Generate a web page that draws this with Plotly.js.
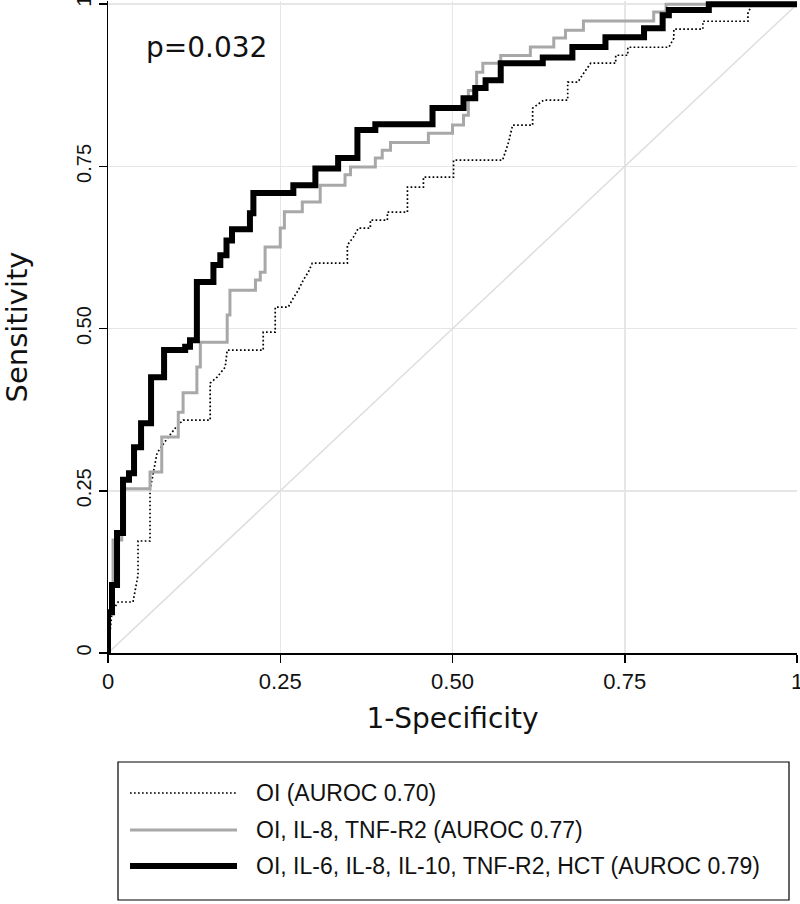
<!DOCTYPE html>
<html>
<head>
<meta charset="utf-8">
<script src="https://cdn.plot.ly/plotly-3.0.1.min.js"></script>
<style>
  html, body { margin: 0; padding: 0; background: #fff; }
  #plt0 { width: 800px; height: 904px; }
</style>
</head>
<body>
<div id="plt0"></div>
<script>
// ROC curves (1-specificity vs sensitivity)
// step curves: each point is the end of a horizontal run (drawn with shape 'vh')
var blackX = [0, 0.0058, 0.0131, 0.0218, 0.0305, 0.0378, 0.048, 0.0625, 0.0814, 0.112, 0.119, 0.129,
    0.153, 0.163, 0.172, 0.180, 0.206, 0.211, 0.269, 0.301, 0.334, 0.362, 0.388, 0.471, 0.516, 0.533,
    0.548, 0.570, 0.631, 0.674, 0.722, 0.778, 0.805, 0.814, 0.872, 1];
var blackY = [0, 0.063, 0.105, 0.185, 0.267, 0.277, 0.317, 0.354, 0.425, 0.467, 0.472, 0.482,
    0.572, 0.598, 0.613, 0.636, 0.653, 0.678, 0.709, 0.721, 0.747, 0.763, 0.806, 0.815, 0.840, 0.855,
    0.871, 0.883, 0.909, 0.918, 0.934, 0.949, 0.963, 0.983, 0.991, 1];

var grayX = [0, 0.0073, 0.020, 0.061, 0.078, 0.102, 0.109, 0.129, 0.134, 0.173, 0.177, 0.214, 0.221,
    0.228, 0.250, 0.256, 0.282, 0.308, 0.344, 0.352, 0.388, 0.398, 0.410, 0.465, 0.500, 0.516, 0.523,
    0.535, 0.544, 0.570, 0.613, 0.647, 0.664, 0.690, 0.792, 0.810, 1];
var grayY = [0, 0.062, 0.174, 0.253, 0.279, 0.333, 0.371, 0.401, 0.441, 0.479, 0.521, 0.559, 0.575,
    0.587, 0.626, 0.655, 0.680, 0.695, 0.721, 0.737, 0.749, 0.763, 0.775, 0.787, 0.801, 0.814, 0.829,
    0.867, 0.895, 0.909, 0.921, 0.934, 0.948, 0.960, 0.974, 0.988, 1];

// dotted curve has tied steps, so it is drawn point to point
var dotX = [0, 0.0058, 0.0145, 0.0363, 0.0436, 0.0436, 0.061, 0.061, 0.0712, 0.0843, 0.0988, 0.109,
    0.1483, 0.1483, 0.1584, 0.1701, 0.173, 0.2253, 0.2253, 0.2427, 0.2427, 0.2616, 0.2689, 0.2762,
    0.2834, 0.2907, 0.2965, 0.3474, 0.3474, 0.3561, 0.3634, 0.3808, 0.3808, 0.4055, 0.4055, 0.4346,
    0.4346, 0.4578, 0.4578, 0.5015, 0.5015, 0.5727, 0.5814, 0.5872, 0.6163, 0.6163, 0.6323, 0.6672,
    0.6672, 0.6817, 0.6904, 0.7006, 0.7369, 0.7369, 0.7544, 0.7544, 0.814, 0.8212, 0.8212, 0.8634,
    0.8634, 0.9288, 0.9288, 0.936, 1];
var dotY = [0, 0.0632, 0.0786, 0.0786, 0.1202, 0.1726, 0.1726, 0.2512, 0.3082, 0.3282, 0.3482, 0.359,
    0.359, 0.416, 0.4253, 0.4407, 0.4669, 0.4669, 0.4946, 0.4946, 0.5331, 0.5331, 0.547, 0.5593,
    0.5747, 0.5871, 0.6009, 0.6009, 0.6287, 0.641, 0.6549, 0.6549, 0.6672, 0.6672, 0.6795, 0.6795,
    0.718, 0.718, 0.7334, 0.7334, 0.7596, 0.7596, 0.7874, 0.8136, 0.8136, 0.8398, 0.8521, 0.8521,
    0.8798, 0.8798, 0.8937, 0.9091, 0.9091, 0.9214, 0.9214, 0.9337, 0.9337, 0.9476, 0.9615, 0.9615,
    0.9738, 0.9738, 0.9877, 1, 1];

var refX = [0, 1];
var refY = [0, 1];

var tickVals = [0, 0.25, 0.5, 0.75, 1];
var tickText = ['0', '0.25', '0.50', '0.75', '1'];

var seriesNames = ['OI (AUROC 0.70)', 'OI, IL-8, TNF-R2 (AUROC 0.77)',
    'OI, IL-6, IL-8, IL-10, TNF-R2, HCT (AUROC 0.79)'];
var pText = 'p=0.032';

var narrowFont = 'Liberation Sans, Arial, sans-serif';
var wideFont = 'DejaVu Sans, sans-serif';

// page geometry (px)
var W = 800, H = 904;
var mL = 108, mR = 3, mT = 1, mB = 251;
function px(x) { return (x - mL) / (W - mL - mR); }
function py(y) { return (H - mB - y) / (H - mT - mB); }

var lineStyles = [
    {color: '#000000', width: 1.7, dash: '1.7px,2.3px'},
    {color: '#a8a8a8', width: 3},
    {color: '#000000', width: 6}
];

function createPlots() {
    var data0 = [
        {x: refX, y: refY, type: 'scatter', mode: 'lines',
            line: {color: '#dedede', width: 1.5}, hoverinfo: 'skip'},
        {x: dotX, y: dotY, type: 'scatter', mode: 'lines', name: seriesNames[0],
            line: lineStyles[0]},
        {x: grayX, y: grayY, type: 'scatter', mode: 'lines', name: seriesNames[1],
            line: Object.assign({shape: 'vh'}, lineStyles[1])},
        {x: blackX, y: blackY, type: 'scatter', mode: 'lines', name: seriesNames[2],
            line: Object.assign({shape: 'vh'}, lineStyles[2])}
    ];

    // hand drawn legend box (Stata style, long line samples)
    var shapes = [{
        type: 'rect', xref: 'paper', yref: 'paper',
        x0: px(118), x1: px(789), y0: py(762), y1: py(900),
        line: {color: '#000', width: 1.2}, fillcolor: 'rgba(0,0,0,0)'
    }];
    var annotations = [{
        text: pText, xref: 'paper', yref: 'paper', x: px(206), y: py(47),
        xanchor: 'center', yanchor: 'middle', showarrow: false,
        font: {family: wideFont, size: 28, color: '#111'}
    }];
    var rowY = [793, 830, 866];
    for (var i = 0; i < seriesNames.length; i++) {
        shapes.push({
            type: 'line', xref: 'paper', yref: 'paper',
            x0: px(130), x1: px(237), y0: py(rowY[i]), y1: py(rowY[i]),
            line: lineStyles[i]
        });
        annotations.push({
            text: seriesNames[i], xref: 'paper', yref: 'paper', x: px(254), y: py(rowY[i]),
            xanchor: 'left', yanchor: 'middle', showarrow: false,
            font: {family: narrowFont, size: 23, color: '#111'}
        });
    }

    var layout1 = {
        width: W, height: H,
        margin: {l: mL, r: mR, t: mT, b: mB},
        paper_bgcolor: '#fff', plot_bgcolor: '#fff',
        showlegend: false,
        xaxis: {
            range: [0, 1], tickvals: tickVals, ticktext: tickText, ticklabeloverflow: 'allow',
            showline: true, linecolor: '#000', linewidth: 1.5,
            ticks: 'outside', ticklen: 8, tickwidth: 1.5, tickcolor: '#000',
            showgrid: true, gridcolor: '#e6e6e6', gridwidth: 1.5, zeroline: false,
            tickfont: {family: narrowFont, size: 22, color: '#111'},
            title: {text: '1-Specificity', standoff: 15,
                font: {family: wideFont, size: 28, color: '#111'}}
        },
        yaxis: {
            range: [0, 1.005], tickvals: tickVals, ticktext: tickText, tickangle: -90,
            ticklabeloverflow: 'allow',
            showline: true, linecolor: '#000', linewidth: 1.5,
            ticks: 'outside', ticklen: 8, tickwidth: 1.5, tickcolor: '#000',
            showgrid: true, gridcolor: '#e6e6e6', gridwidth: 1.5, zeroline: false,
            tickfont: {family: narrowFont, size: 20, color: '#111'},
            title: {text: 'Sensitivity', standoff: 36,
                font: {family: wideFont, size: 29, color: '#111'}}
        },
        shapes: shapes,
        annotations: annotations
    };

    var plt0 = document.getElementById('plt0');
    Plotly.newPlot(plt0, data0, layout1, {staticPlot: true});
}

createPlots();
</script>
</body>
</html>
